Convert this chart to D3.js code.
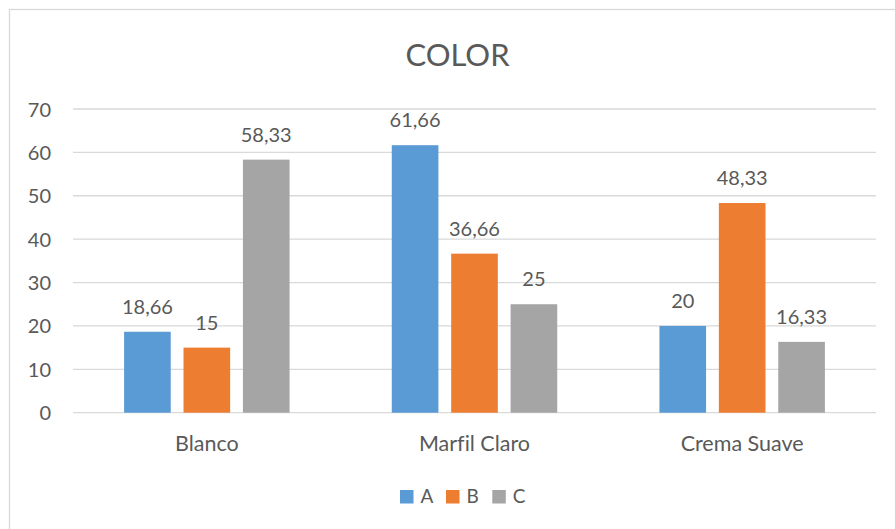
<!DOCTYPE html>
<html><head><meta charset="utf-8">
<script src="https://cdn.jsdelivr.net/npm/d3@7"></script>
<style>body{margin:0;background:#fff;} text{font-family:Lato,"Open Sans",sans-serif;fill:#595959;font-variant-ligatures:none;}</style>
</head><body>
<svg id="c" width="895" height="529"></svg>
<script>
const categories = ["Blanco", "Marfil Claro", "Crema Suave"];
const seriesNames = ["A", "B", "C"];
const seriesA = [18.66, 61.66, 20];
const seriesB = [15, 36.66, 48.33];
const seriesC = [58.33, 25, 16.33];
const yTicks = [0, 10, 20, 30, 40, 50, 60, 70];
const colors = ["#5B9BD5", "#ED7D31", "#A5A5A5"];
const title = "COLOR";

const series = [seriesA, seriesB, seriesC];
const svg = d3.select("#c");
const pL = 73, pR = 876, pT = 109, pB = 412.7;

svg.append("rect").attr("x", 9.5).attr("y", 9.5).attr("width", 1000).attr("height", 1000)
  .attr("fill", "#fff").attr("stroke", "#D9D9D9").attr("stroke-width", 1.3);

const x = d3.scaleBand().domain(categories).range([pL, pR]).paddingInner(0).paddingOuter(0);
const inner = d3.scaleBand().domain(seriesNames).range([0, x.bandwidth()]).paddingInner(0.215).paddingOuter(0.86);
const y = d3.scaleLinear().domain([0, 70]).range([pB, pT]);

// gridlines
svg.append("g").selectAll("line").data(yTicks).join("line")
  .attr("x1", pL).attr("x2", pR)
  .attr("y1", d => y(d)).attr("y2", d => y(d))
  .attr("stroke", "#D9D9D9").attr("stroke-width", 1.3);

// y tick labels
svg.append("g").selectAll("text").data(yTicks).join("text")
  .attr("x", 51).attr("y", d => y(d) + 7.5)
  .attr("text-anchor", "end").attr("font-size", 20).text(d => d);

// bars
const rows = [];
categories.forEach((c, i) => seriesNames.forEach((s, j) => rows.push({c, s, j, v: series[j][i]})));
svg.append("g").selectAll("rect").data(rows).join("rect")
  .attr("x", d => x(d.c) + inner(d.s))
  .attr("width", inner.bandwidth())
  .attr("y", d => y(d.v))
  .attr("height", d => y(0) - y(d.v))
  .attr("fill", d => colors[d.j]);

// data labels
const fmt = v => String(v).replace(".", ",");
svg.append("g").selectAll("text").data(rows).join("text")
  .attr("x", d => x(d.c) + inner(d.s) + inner.bandwidth() / 2)
  .attr("y", d => y(d.v) - 18)
  .attr("text-anchor", "middle").attr("font-size", 20).text(d => fmt(d.v));

// category labels
svg.append("g").selectAll("text").data(categories).join("text")
  .attr("x", d => x(d) + x.bandwidth() / 2).attr("y", 451)
  .attr("text-anchor", "middle").attr("font-size", 21.5).text(d => d);

// title
svg.append("text").attr("x", (pL + pR) / 2 - 17).attr("y", 65.7)
  .attr("text-anchor", "middle").attr("font-size", 31).text(title);

// legend
const legX = [400, 446, 492.3];
const lg = svg.append("g").selectAll("g").data(seriesNames).join("g")
  .attr("transform", (d, i) => `translate(${legX[i]},490)`);
lg.append("rect").attr("width", 13.5).attr("height", 13.5).attr("fill", (d, i) => colors[i]);
lg.append("text").attr("x", 20.5).attr("y", 13.3).attr("font-size", 19).text(d => d);
</script>
</body></html>
